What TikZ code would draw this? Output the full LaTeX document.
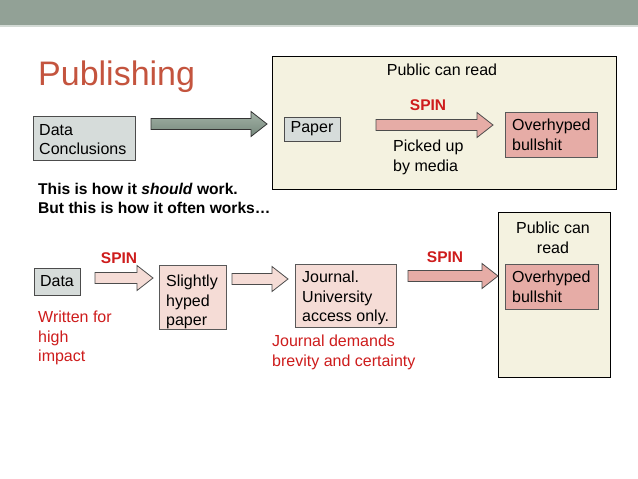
\documentclass[tikz,border=0pt]{standalone}
\usepackage{fontspec}
\setmainfont{Liberation Sans}
\usetikzlibrary{calc}
\definecolor{barc}{RGB}{146,161,150}
\definecolor{titlec}{RGB}{196,84,62}
\definecolor{creamc}{RGB}{244,242,224}
\definecolor{grayc}{RGB}{214,220,218}
\definecolor{pinkc}{RGB}{230,172,166}
\definecolor{lpinkc}{RGB}{245,220,214}
\definecolor{redc}{RGB}{206,28,28}
\definecolor{greenarrow}{RGB}{118,136,124}
\definecolor{greenarrowl}{RGB}{162,178,166}
\newcommand\barrow[4]{%
  \draw[#4] (#1,#3-5.5) -- (#2-16,#3-5.5) -- (#2-16,#3-12.5) -- (#2,#3) -- (#2-16,#3+12.5) -- (#2-16,#3+5.5) -- (#1,#3+5.5) -- cycle;}
\tikzset{
  txt/.style={font=\fontsize{16}{19.5}\selectfont, inner sep=0pt, align=left, anchor=north west},
  redtxt/.style={txt, text=redc},
  spintxt/.style={font=\fontsize{15.5}{18}\selectfont\bfseries, text=redc, inner sep=0pt},
  boxg/.style={draw=black!70, line width=0.8pt, fill=grayc},
  boxp/.style={draw=black!65, line width=0.8pt, fill=pinkc},
  boxl/.style={draw=black!65, line width=0.8pt, fill=lpinkc},
  boxc/.style={draw=black, line width=0.9pt, fill=creamc},
  arrp/.style={draw=black!70, line width=0.8pt, fill=pinkc},
  arrl/.style={draw=black!70, line width=0.8pt, fill=lpinkc},
  arrg/.style={draw=black!80, line width=0.8pt, top color=greenarrowl, bottom color=greenarrow},
}
\begin{document}
\begin{tikzpicture}[x=1pt,y=-1pt]
\useasboundingbox (0,0) rectangle (638,479);
\fill[white] (0,0) rectangle (638,479);
\fill[barc] (0,0) rectangle (638,25);
\fill[barc!40] (0,25) rectangle (638,27);

\node[anchor=base west, inner sep=0pt, text=titlec, font=\fontsize{34}{36}\selectfont] (title) at (38,85) {Publishing};

% top panel
\draw[boxc] (272,56) rectangle (616,189);
\node[txt, anchor=center] (pub1) at (442,70) {Public can read};
\node[spintxt] (spin1) at (428,105) {SPIN};
\draw[boxg] (284,117) rectangle (340,141);
\node[txt, anchor=center] (paper) at (312,129) {Paper};
\barrow{376}{493}{125}{arrp}
\node[txt] (picked) at (393,140) {Picked up\\by media};
\draw[boxp] (505,112) rectangle (597,157);
\node[txt] (over1) at (512,119) {Overhyped\\bullshit};

\draw[boxg] (33,116) rectangle (135,160);
\node[txt] (dc) at (39,124) {Data\\Conclusions};
\barrow{151}{267}{124}{arrg}

\node[anchor=north west, inner sep=0pt, align=left, font=\fontsize{15.6}{18.5}\selectfont\bfseries] (should) at (38,183) {This is how it \textit{should} work.\\But this is how it often works\ldots};

% bottom row
\draw[boxc] (498,212) rectangle (610,377);
\node[txt, align=center, anchor=north] (pub2) at (553,222) {Public can\\read};
\draw[boxp] (505,264) rectangle (598,309);
\node[txt] (over2) at (512,271) {Overhyped\\bullshit};
\node[spintxt] (spin2) at (445,257) {SPIN};
\barrow{408}{498}{276}{arrp}

\draw[boxl] (295,264) rectangle (396,327);
\node[txt] (journal) at (302,271) {Journal.\\University\\access only.};
\node[redtxt] (demands) at (272,335) {Journal demands\\brevity and certainty};
\barrow{232}{288}{279}{arrl}

\draw[boxl] (159,265) rectangle (226,329);
\node[txt] (slightly) at (166,275) {Slightly\\hyped\\paper};
\barrow{95}{153}{278}{arrl}
\node[spintxt] (spin3) at (119,258) {SPIN};

\draw[boxg] (34,268) rectangle (80,295);
\node[txt, anchor=center] (data) at (57,281.5) {Data};
\node[redtxt] (written) at (38,311) {Written for\\high\\impact};
\end{tikzpicture}
\end{document}
